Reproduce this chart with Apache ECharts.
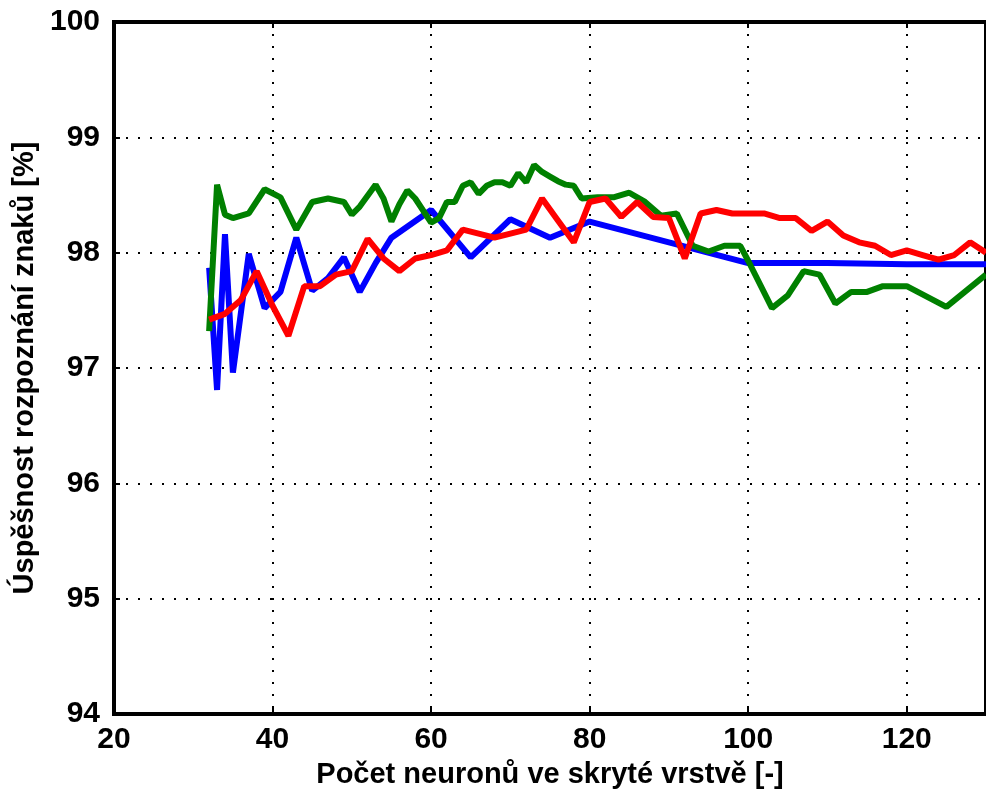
<!DOCTYPE html>
<html>
<head>
<meta charset="utf-8">
<script src="https://cdn.jsdelivr.net/npm/echarts@6/dist/echarts.min.js"></script>
<style>
  html, body { margin: 0; padding: 0; background: #fff; }
  #chart { width: 986px; height: 794px; }
</style>
</head>
<body>
<div id="chart"></div>
<script>
// data
var blueX = [32, 33, 34, 35, 37, 39, 41, 43, 45, 47, 49, 51, 53, 55, 60, 65, 70, 75, 80, 100, 110, 120, 130];
var blueY = [97.87, 96.81, 98.16, 96.96, 97.99, 97.52, 97.66, 98.13, 97.67, 97.78, 97.96, 97.66, 97.91, 98.13, 98.37, 97.96, 98.29, 98.13, 98.27, 97.91, 97.91, 97.90, 97.90];

var greenX = [32, 33, 34, 35, 37, 39, 41, 43, 45, 47, 49, 50, 51, 53, 54, 55, 56, 57, 58, 60,
              61, 62, 63, 64, 65, 66, 67, 68, 69, 70, 71, 72, 73, 74, 75, 76, 77, 78, 79, 81,
              83, 85, 87, 89, 91, 93, 95, 97, 99, 100, 103, 105, 107, 109, 111, 113, 115, 117, 120, 125, 130];
var greenY = [97.32, 98.59, 98.33, 98.30, 98.34, 98.55, 98.48, 98.20, 98.44, 98.47, 98.44, 98.33, 98.40, 98.59, 98.47, 98.27, 98.42, 98.54, 98.47, 98.26,
              98.30, 98.44, 98.44, 98.58, 98.61, 98.51, 98.58, 98.61, 98.61, 98.58, 98.69, 98.61, 98.76, 98.70, 98.66, 98.62, 98.59, 98.58, 98.47, 98.48,
              98.48, 98.52, 98.44, 98.32, 98.34, 98.06, 98.01, 98.06, 98.06, 97.93, 97.52, 97.63, 97.84, 97.81, 97.56, 97.66, 97.66, 97.71, 97.71, 97.53, 97.81];

var redX = [32, 34, 36, 38, 40, 42, 44, 46, 48, 50, 52, 54, 56, 58, 60, 62, 64, 68, 72, 74,
            76, 78, 80, 82, 84, 86, 88, 90, 92, 94, 96, 98, 100, 102, 104, 106, 108, 110, 112, 114,
            116, 118, 120, 122, 124, 126, 128, 130];
var redY = [97.42, 97.47, 97.59, 97.84, 97.54, 97.28, 97.71, 97.71, 97.81, 97.84, 98.12, 97.95, 97.84, 97.95, 97.98, 98.02, 98.20, 98.13, 98.20, 98.47,
            98.28, 98.09, 98.44, 98.47, 98.31, 98.44, 98.31, 98.30, 97.95, 98.34, 98.37, 98.34, 98.34, 98.34, 98.30, 98.30, 98.19, 98.27, 98.15, 98.09,
            98.06, 97.98, 98.02, 97.98, 97.94, 97.98, 98.09, 98.00];

var xName = 'Počet neuronů ve skryté vrstvě [-]';
var yName = 'Úspěšnost rozpoznání znaků [%]';

function pairs(xs, ys) {
    var out = [];
    for (var i = 0; i < xs.length; i++) out.push([xs[i], ys[i]]);
    return out;
}

function lineSeries(xs, ys, color) {
    return {
        type: 'line',
        data: pairs(xs, ys),
        symbol: 'none',
        lineStyle: { color: color, width: 6 },
        animation: false
    };
}

var font = 'Liberation Sans, Arial, sans-serif';
var dotted = { color: '#000', type: [2, 10], width: 2 };

var myChart = echarts.init(document.getElementById('chart'));
var option = {
    backgroundColor: '#fff',
    animation: false,
    grid: {
        left: 114,
        right: -8,
        top: 22,
        bottom: 76,
        show: true,
        borderColor: '#000',
        borderWidth: 4
    },
    xAxis: [
        {
            type: 'value',
            min: 20,
            max: 130,
            interval: 20,
            name: xName,
            nameLocation: 'middle',
            nameGap: 45,
            nameTextStyle: { color: '#000', fontSize: 29, fontWeight: 'bold', fontFamily: font },
            axisLine: { show: true, lineStyle: { color: '#000', width: 4 } },
            axisTick: { show: true, inside: true, length: 6, lineStyle: { color: '#000', width: 2 } },
            axisLabel: { color: '#000', fontSize: 30, fontWeight: 'bold', fontFamily: font, margin: 11, showMaxLabel: false },
            splitLine: { show: true, lineStyle: dotted }
        },
        {
            type: 'value',
            position: 'top',
            min: 20,
            max: 130,
            interval: 20,
            axisLine: { show: true, lineStyle: { color: '#000', width: 4 } },
            axisTick: { show: true, inside: true, length: 6, lineStyle: { color: '#000', width: 2 } },
            axisLabel: { show: false },
            splitLine: { show: false }
        }
    ],
    yAxis: {
        type: 'value',
        min: 94,
        max: 100,
        interval: 1,
        name: yName,
        nameLocation: 'middle',
        nameGap: 72,
        nameTextStyle: { color: '#000', fontSize: 29, fontWeight: 'bold', fontFamily: font },
        axisLine: { show: true, lineStyle: { color: '#000', width: 4 } },
        axisTick: { show: true, inside: true, length: 6, lineStyle: { color: '#000', width: 2 } },
        axisLabel: { color: '#000', fontSize: 30, fontWeight: 'bold', fontFamily: font, margin: 14 },
        splitLine: { show: true, lineStyle: dotted }
    },
    series: [
        lineSeries(blueX, blueY, '#0000ff'),
        lineSeries(greenX, greenY, '#008000'),
        lineSeries(redX, redY, '#ff0000')
    ]
};
myChart.setOption(option);
</script>
</body>
</html>
